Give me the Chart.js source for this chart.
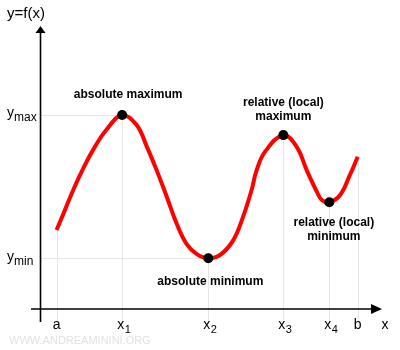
<!DOCTYPE html>
<html>
<head>
<meta charset="utf-8">
<script src="https://cdn.jsdelivr.net/npm/chart.js@4/dist/chart.umd.min.js"></script>
<style>
  html, body { margin: 0; padding: 0; background: #fff; }
  #wrap { width: 400px; height: 350px; position: relative; }
</style>
</head>
<body>
<div id="wrap"><canvas id="c"></canvas></div>
<script>
  // curve f(x) (units: 0..100 on both axes)
  const curveX = [4.9, 7.4, 9.9, 12.8, 15.8, 19.7, 24.3, 28.6, 31.6, 34.5, 37.5, 40.4, 43.4, 46.4, 49.8,
                  53.3, 57.2, 60.1, 62.6, 64.1, 66.6, 72.0, 75.9, 78.9, 81.9, 83.4, 85.6, 88.8, 91.7, 94.0];
  const curveY = [28.2, 35.4, 42.7, 50.2, 57.0, 64.1, 69.3, 65.7, 58.0, 49.6, 40.1, 30.6, 23.2, 19.6, 18.1,
                  19.3, 24.6, 33.0, 42.5, 49.6, 56.2, 62.1, 58.0, 49.6, 41.9, 38.9, 38.1, 40.7, 47.9, 54.4];

  // marked extrema
  const markX = [24.3, 49.8, 72.0, 85.6];
  const markY = [69.3, 18.1, 62.1, 38.1];
  const markLabels = [['absolute maximum'], ['absolute minimum'], ['relative (local)', 'maximum'], ['relative (local)', 'minimum']];

  // x ticks (letter + subscript)
  const tickX = [4.9, 24.3, 49.8, 72.0, 85.6, 94.0];
  const tickMain = ['a', 'x', 'x', 'x', 'x', 'b'];
  const tickSub = ['', '1', '2', '3', '4', ''];

  // y ticks
  const yTickVal = [69.3, 18.1];
  const yTickSub = ['max', 'min'];

  const FONT = '"Liberation Sans", Arial, sans-serif';
  const GRID = '#e6e6e6';

  function curveAt(x) {
    const i = curveX.indexOf(x);
    return i >= 0 ? curveY[i] : 0;
  }

  const decor = {
    id: 'decor',
    beforeDatasetsDraw(chart) {
      const { ctx, scales: { x, y } } = chart;
      const y0 = y.getPixelForValue(0);
      const x0 = x.getPixelForValue(0);
      ctx.save();
      ctx.strokeStyle = GRID; ctx.lineWidth = 1;
      // drop lines from the curve down past the x axis
      tickX.forEach((v) => {
        const px = Math.round(x.getPixelForValue(v)) + 0.5;
        ctx.beginPath(); ctx.moveTo(px, y.getPixelForValue(curveAt(v))); ctx.lineTo(px, y0 + 13); ctx.stroke();
      });
      // ymax / ymin reference lines to the extreme points
      yTickVal.forEach((v, i) => {
        const py = Math.round(y.getPixelForValue(v)) + 0.5;
        ctx.beginPath(); ctx.moveTo(x0, py); ctx.lineTo(x.getPixelForValue(markX[i]), py); ctx.stroke();
      });
      // axes with arrows
      ctx.strokeStyle = '#000'; ctx.fillStyle = '#000'; ctx.lineWidth = 1.6;
      ctx.beginPath(); ctx.moveTo(x0 + 0.5, y0 + 13); ctx.lineTo(x0 + 0.5, 31); ctx.stroke();
      ctx.beginPath(); ctx.moveTo(x0 - 9, y0); ctx.lineTo(373, y0); ctx.stroke();
      ctx.beginPath(); ctx.moveTo(x0 + 0.5, 26); ctx.lineTo(x0 - 4.5, 33); ctx.lineTo(x0 + 5.5, 33); ctx.closePath(); ctx.fill();
      ctx.beginPath(); ctx.moveTo(382, y0); ctx.lineTo(371, y0 - 5); ctx.lineTo(371, y0 + 5); ctx.closePath(); ctx.fill();
      ctx.restore();
    },
    afterDraw(chart) {
      const { ctx, scales: { x, y } } = chart;
      const y0 = y.getPixelForValue(0);
      ctx.save();
      ctx.fillStyle = '#000';
      ctx.textBaseline = 'alphabetic';
      // x tick labels
      tickX.forEach((v, i) => {
        const px = x.getPixelForValue(v);
        ctx.font = '14px ' + FONT;
        if (!tickSub[i]) { ctx.textAlign = 'center'; ctx.fillText(tickMain[i], px, y0 + 20); return; }
        ctx.textAlign = 'left';
        const w = ctx.measureText(tickMain[i]).width;
        ctx.fillText(tickMain[i], px - 5, y0 + 20);
        ctx.font = '11px ' + FONT;
        ctx.fillText(tickSub[i], px - 5 + w + 0.5, y0 + 24);
      });
      ctx.font = '14px ' + FONT; ctx.textAlign = 'center';
      ctx.fillText('x', 385, y0 + 20);
      // y tick labels
      yTickVal.forEach((v, i) => {
        const py = y.getPixelForValue(v);
        ctx.textAlign = 'left';
        ctx.font = '14px ' + FONT;
        ctx.fillText('y', 7, py + 2.5);
        const w = ctx.measureText('y').width;
        ctx.font = '12px ' + FONT;
        ctx.fillText(yTickSub[i], 7 + w, py + 6.5);
      });
      ctx.font = '15px ' + FONT; ctx.textAlign = 'left';
      ctx.fillText('y=f(x)', 7, 18);
      // point labels
      const offs = [[6, -17], [2, 27], [0, -29], [4.5, 24]];
      ctx.font = 'bold 12px ' + FONT; ctx.textAlign = 'center';
      markLabels.forEach((lines, i) => {
        const px = x.getPixelForValue(markX[i]) + offs[i][0];
        const py = y.getPixelForValue(markY[i]) + offs[i][1];
        lines.forEach((t, j) => ctx.fillText(t, px, py + j * 13.5));
      });
      // watermark
      ctx.font = '11px ' + FONT; ctx.fillStyle = '#e2e2e2'; ctx.textAlign = 'left';
      ctx.fillText('WWW.ANDREAMININI.ORG', 9, 344);
      ctx.restore();
    },
  };

  new Chart(document.getElementById('c'), {
    type: 'scatter',
    data: {
      datasets: [
        { data: markX.map((v, i) => ({ x: v, y: markY[i] })), showLine: false, pointRadius: 5, pointHoverRadius: 5,
          backgroundColor: '#000', borderWidth: 0 },
        { data: curveX.map((v, i) => ({ x: v, y: curveY[i] })), showLine: true, pointRadius: 0, borderColor: '#ff0000',
          borderWidth: 4, tension: 0.4, borderCapStyle: 'butt', borderJoinStyle: 'round', fill: false },
      ],
    },
    options: {
      responsive: true, maintainAspectRatio: false, animation: false,
      layout: { padding: { left: 40, right: 22, top: 29, bottom: 41 } },
      plugins: { legend: { display: false }, tooltip: { enabled: false } },
      scales: {
        x: { type: 'linear', min: 0, max: 100, display: false },
        y: { type: 'linear', min: 0, max: 100, display: false },
      },
    },
    plugins: [decor],
  });
</script>
</body>
</html>
